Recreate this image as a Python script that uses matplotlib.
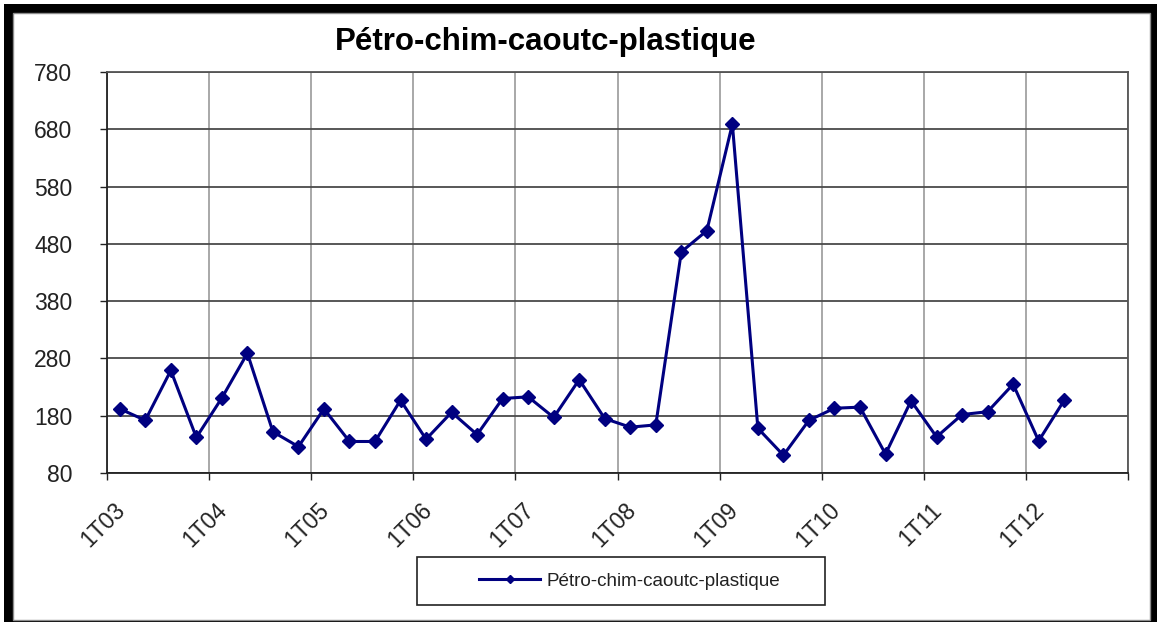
import numpy as np
import matplotlib
matplotlib.use("Agg")
import matplotlib.pyplot as plt
from matplotlib.patches import Rectangle
from matplotlib.transforms import ScaledTranslation

plt.rcParams['font.family'] = ['Liberation Sans', 'DejaVu Sans']

# données trimestrielles 1T03 -> 2T12
years = ['03', '04', '05', '06', '07', '08', '09', '10', '11', '12']
quarters = [f'{q}T{y}' for y in years for q in range(1, 5)][:38]
values = [192, 172, 259, 142, 211, 289, 152, 126, 192, 135,
          135, 207, 139, 186, 147, 210, 213, 177, 243, 175,
          160, 164, 466, 503, 689, 158, 111, 172, 193, 195,
          113, 206, 143, 182, 187, 235, 136, 207]
year_labels = ['1T' + y for y in years]
yticks = list(range(80, 781, 100))

W, H = 1157, 622
fig = plt.figure(figsize=(W / 100, H / 100), dpi=100)

# cadre noir autour du graphique
fig.patches.append(Rectangle((4 / W, 0), 1 - 4 / W, 1 - 4 / H,
                             transform=fig.transFigure, facecolor='black',
                             edgecolor='none', zorder=-3))
fig.patches.append(Rectangle((13 / W, 2 / H), (1150 - 13) / W, (609 - 2) / H,
                             transform=fig.transFigure, facecolor='white',
                             edgecolor='#8c8c8c', linewidth=1, zorder=-2))

ax = fig.add_axes([107 / W, (H - 473) / H, (1128 - 107) / W, (473 - 72) / H])

x = np.arange(len(values))
line, = ax.plot(x, values, color='#000080', linewidth=2.2, marker='D',
                markersize=7.2, label='Pétro-chim-caoutc-plastique', zorder=3)

n_slots = len(years) * 4
ax.set_xlim(-0.5, n_slots - 0.5)
ax.set_ylim(yticks[0], yticks[-1])

# axe des x : graduations entre les catégories, étiquettes par année
ax.set_xticks(np.arange(-0.5, n_slots, 4))
ax.set_xticklabels([])
ax.set_xticks(np.arange(0, n_slots, 4), minor=True)
ax.set_xticklabels(year_labels, minor=True, rotation=45, ha='right',
                   va='center', rotation_mode='anchor', fontsize=16.5)
ax.tick_params(axis='x', which='major', direction='out', length=5,
               width=1, color='#222222')
ax.tick_params(axis='x', which='minor', length=0, pad=24)
offset = ScaledTranslation(0.02, 0, fig.dpi_scale_trans)
for lab in ax.get_xticklabels(minor=True):
    lab.set_transform(lab.get_transform() + offset)

ax.set_yticks(yticks)
ax.tick_params(axis='y', direction='out', length=5, width=1,
               color='#222222', pad=20, labelsize=16.5)
for lab in ax.get_yticklabels():
    lab.set_color('#222222')
for lab in ax.get_xticklabels(minor=True):
    lab.set_color('#222222')

ax.grid(axis='x', which='major', color='#9a9a9a', linewidth=1.2)
ax.grid(axis='y', color='#4a4a4a', linewidth=1.3)
ax.set_axisbelow(True)
for side in ['left', 'bottom']:
    ax.spines[side].set_color('#222222')
    ax.spines[side].set_linewidth(1.3)
for side in ['right', 'top']:
    ax.spines[side].set_color('#555555')
    ax.spines[side].set_linewidth(1.3)

fig.text(546 / W, (H - 50) / H, 'Pétro-chim-caoutc-plastique',
         ha='center', va='baseline', fontsize=22.5, fontweight='bold')

# légende
fig.patches.append(Rectangle((417 / W, (H - 605) / H), 408 / W, 48 / H,
                             transform=fig.transFigure, facecolor='white',
                             edgecolor='#222222', linewidth=1.2, zorder=1))
leg = fig.legend(handles=[line], loc='center left',
                 bbox_to_anchor=(470 / W, (H - 581) / H), frameon=False,
                 borderpad=0, handlelength=3.2, handletextpad=0.35,
                 markerscale=0.55, fontsize=13.6)
leg.set_zorder(2)
for t in leg.get_texts():
    t.set_color('#222222')

fig.savefig('out.png', dpi=100)
